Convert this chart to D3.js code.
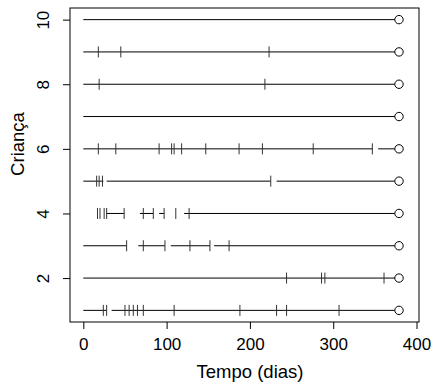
<!DOCTYPE html>
<html>
<head>
<meta charset="utf-8">
<script src="https://cdn.jsdelivr.net/npm/d3@7"></script>
<style>
  body { margin: 0; background: #fff; }
  svg { display: block; font-family: "Liberation Sans", Arial, sans-serif; }
</style>
</head>
<body>
<div id="chart"></div>
<script>
// one entry per child (Criança 1..10)
const children = [1, 2, 3, 4, 5, 6, 7, 8, 9, 10];
// at-risk periods [start, stop] in days
const segments = [
  [[0, 28], [34, 379]],
  [[0, 379]],
  [[0, 52], [66, 98], [105, 152], [157, 379]],
  [[28, 49], [68, 84], [91, 97], [121, 379]],
  [[0, 24], [28, 225], [232, 379]],
  [[0, 347], [354, 379]],
  [[0, 379]],
  [[0, 379]],
  [[0, 379]],
  [[0, 379]]
];
// event times (vertical marks)
const events = [
  [24, 28, 50, 55, 60, 65, 72, 109, 188, 232, 244, 307],
  [244, 286, 290, 361],
  [52, 72, 98, 128, 152, 175],
  [17, 20, 25, 28, 49, 72, 84, 97, 111, 127],
  [16, 19, 23, 225],
  [18, 39, 91, 106, 109, 118, 147, 187, 215, 276, 347],
  [],
  [19, 218],
  [18, 45, 223],
  []
];
// censoring time (open circle)
const censor = [379, 379, 379, 379, 379, 379, 379, 379, 379, 379];
const xTicks = [0, 100, 200, 300, 400];
const yTicks = [2, 4, 6, 8, 10];

const width = 434, height = 383;
const plot = { left: 70, right: 419, top: 8, bottom: 322 };

const svg = d3.select('#chart').append('svg')
  .attr('width', width)
  .attr('height', height);

const x = d3.scaleLinear().domain([-16, 403]).range([plot.left, plot.right]);
const y = d3.scaleLinear().domain([0.64, 10.36]).range([plot.bottom, plot.top]);

// segments, event marks, censoring circles
children.forEach((c, i) => {
  const g = svg.append('g');
  g.selectAll('line.seg')
    .data(segments[i])
    .join('line')
    .attr('class', 'seg')
    .attr('x1', d => x(d[0]))
    .attr('x2', d => x(d[1]))
    .attr('y1', y(c))
    .attr('y2', y(c))
    .attr('stroke', '#000')
    .attr('stroke-width', 1);
  g.selectAll('line.ev')
    .data(events[i])
    .join('line')
    .attr('class', 'ev')
    .attr('x1', d => x(d))
    .attr('x2', d => x(d))
    .attr('y1', y(c) - 5.5)
    .attr('y2', y(c) + 5.5)
    .attr('stroke', '#333')
    .attr('stroke-width', 1);
  g.append('circle')
    .attr('cx', x(censor[i]))
    .attr('cy', y(c))
    .attr('r', 4.2)
    .attr('fill', '#fff')
    .attr('stroke', '#000')
    .attr('stroke-width', 1);
});

// box
svg.append('rect')
  .attr('x', plot.left)
  .attr('y', plot.top)
  .attr('width', plot.right - plot.left)
  .attr('height', plot.bottom - plot.top)
  .attr('fill', 'none')
  .attr('stroke', '#000');

// X axis
const xAxis = svg.append('g')
  .attr('transform', `translate(0,${plot.bottom})`)
  .call(d3.axisBottom(x).tickValues(xTicks).tickSize(7).tickSizeOuter(0));
xAxis.select('.domain').remove();
xAxis.selectAll('text')
  .attr('y', 28)
  .attr('dy', 0)
  .attr('fill', '#000')
  .style('font-size', '17px');

// Y axis
const yAxis = svg.append('g')
  .attr('transform', `translate(${plot.left},0)`)
  .call(d3.axisLeft(y).tickValues(yTicks).tickSize(7).tickSizeOuter(0));
yAxis.select('.domain').remove();
yAxis.selectAll('text')
  .attr('transform', 'rotate(-90)')
  .attr('x', 0)
  .attr('y', -21.5)
  .attr('dy', 0)
  .attr('text-anchor', 'middle')
  .attr('fill', '#000')
  .style('font-size', '17px');

// axis titles
svg.append('text')
  .attr('x', 250)
  .attr('y', 378)
  .attr('text-anchor', 'middle')
  .style('font-size', '18.5px')
  .text('Tempo (dias)');

svg.append('text')
  .attr('transform', `translate(24,${144}) rotate(-90)`)
  .attr('text-anchor', 'middle')
  .style('font-size', '18.5px')
  .text('Criança');
</script>
</body>
</html>
